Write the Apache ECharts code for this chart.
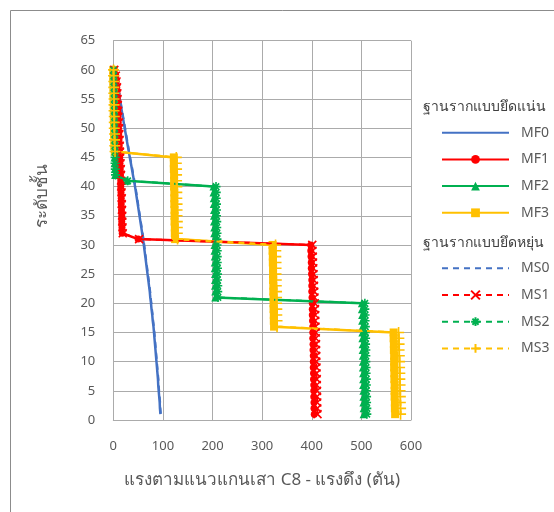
<!DOCTYPE html>
<html><head><meta charset="utf-8">
<script src="https://cdn.jsdelivr.net/npm/echarts@6/dist/echarts.min.js"></script>
<style>html,body{margin:0;padding:0;background:#fff}#c{width:554px;height:512px}</style>
</head><body><div id="c"></div>
<script>
const floors = [60,59,58,57,56,55,54,53,52,51,50,49,48,47,46,45,44,43,42,41,40,39,38,37,36,35,34,33,32,31,30,29,28,27,26,25,24,23,22,21,20,19,18,17,16,15,14,13,12,11,10,9,8,7,6,5,4,3,2,1];
const xTicks = [0,100,200,300,400,500,600];
const yTicks = [0,5,10,15,20,25,30,35,40,45,50,55,60,65];
const seriesNames = ['MF0','MF1','MF2','MF3','MS0','MS1','MS2','MS3'];
const groupHeaders = ['ฐานรากแบบยึดแน่น','ฐานรากแบบยึดหยุ่น'];
const xTitle = 'แรงตามแนวแกนเสา C8 - แรงดึง (ตัน)';
const yTitle = 'ระดับชั้น';

const MF0 = [3,5,7,9,11,13,15,17,19,21, 23,25,27,29.1,31.2,33.3,35.4,37.5,39.6,41.7, 43.8,45.6,47.4,49.2,51,52.8,54.6,56.4,58.2,60, 61.5,63,64.5,66,67.5,69,70.5,72,73.5,74.5, 76,77,78.5,79.5,81,82,83,84,85,86, 87,88,89,90,90.5,91.5,92.5,93.5,94,95];
const MS0 = [4,6,8,10,12,14,16,18,20,22, 24,26,28,30,32,34,36.4,38.5,40.6,42.7, 44.8,46.6,48.4,50.2,52,53.8,55.6,57.4,59.2,61, 62.5,64,65.5,67,68.5,70,71.5,73,74.5,75.5, 77,78,79.5,80.5,82,83,84,85,86,87, 88,89,90,91,91.5,92.5,93.5,94.5,95,96];
const MF1 = [2,5,6,7,7.5,8,8.5,9,9.5,10, 10.5,11,11.5,12,12.5,13,13.5,14,14.5,15, 15,15.5,16,16,16.5,17,17,17.5,18,50, 398,398,398.5,399,399,399.5,400,400,400,400.5, 401,401,401,401.5,402,402,402,402.5,402.5,403, 403,403,403.5,403.5,404,404,404,404.5,404.5,405];
const MS1 = [2,5,6.5,7.5,8,8.5,9,9.5,10,11, 11.5,12,12.5,13,13.5,14,14.5,15,15.5,16, 16,16.5,17,17,17.5,18,18,18.5,19,52, 401,401.5,402,402.5,403,403.5,404,404.5,405,405.5, 406,406.5,407,407,407.5,408,408,408.5,408.5,409, 409,409.5,409.5,410,410,410.5,410.5,411,411,411.5];
const MF2 = [0,0,0.5,0.5,0.5,1,1,1,1.5,1.5, 1.5,2,2,2,2.5,2.5,2.5,3,3.5,27, 202,202,202.5,202.5,203,203,203,203.5,203.5,204, 204,204,204.5,204.5,204.5,205,205,205,205.5,205.5, 501,501,501.5,501.5,502,502,502,502.5,502.5,503, 503,503,503.5,503.5,503.5,504,504,504,504.5,504.5];
const MS2 = [0.5,1,1,1.5,1.5,2,2,2,2.5,2.5, 2.5,3,3,3,3.5,3.5,3.5,4,4.5,29, 207,207.5,207.5,208,208,208,208.5,208.5,209,209, 209,209.5,209.5,209.5,210,210,210,210.5,210.5,211, 507,507,507.5,507.5,508,508,508.5,508.5,509,509, 509,509.5,509.5,510,510,510,510.5,510.5,511,511];
const MF3 = [0,0,0,0.5,0.5,0.5,1,1,1,1.5, 1.5,1.5,2,2,3,122,122,122,122.5,122.5, 122.5,123,123,123,123.5,123.5,123.5,124,124,124.5, 321,321,321.5,321.5,322,322,322,322.5,322.5,323, 323,323,323.5,323.5,324,565,565,565.5,565.5,566, 566,566,566.5,566.5,567,567,567,567.5,567.5,568];
const MS3 = [0.5,0.5,1,1,1,1.5,1.5,1.5,2,2, 2,2.5,2.5,3,3.5,127,127,127.5,127.5,127.5, 128,128,128,128.5,128.5,128.5,129,129,129,129.5, 327,327.5,327.5,328,328,328,328.5,328.5,329,329, 329,329.5,329.5,330,330,575,575.5,576,576,576.5, 577,577,577.5,577.5,578,578,578.5,578.5,579,579];

const values = [MF0,MF1,MF2,MF3,MS0,MS1,MS2,MS3];
const colors = ['#4472C4','#FF0000','#00B050','#FFC000','#4472C4','#FF0000','#00B050','#FFC000'];
const symbols = ['none','circle','triangle','rect','none',
  'path://M0,0L10,10M10,0L0,10',
  'path://M5,0L5,10M0,5L10,5M1.5,1.5L8.5,8.5M8.5,1.5L1.5,8.5',
  'path://M5,0L5,10M0,5L10,5'];
const symSizes = [0,7,8,8,0,8,9,11];

const FONT = '"Noto Sans", "DejaVu Sans", sans-serif';
const series = seriesNames.map((name, i) => {
  const dashed = i >= 4;
  return {
    name, type: 'line',
    data: floors.map((f, k) => [values[i][k], f]),
    symbol: symbols[i],
    symbolSize: symSizes[i],
    showSymbol: symbols[i] !== 'none',
    showAllSymbol: true,
    lineStyle: { color: colors[i], width: dashed ? 2 : 2.5, type: dashed ? [6, 5] : 'solid' },
    itemStyle: { color: colors[i], borderColor: colors[i], borderWidth: (i >= 5) ? 1.6 : 0 },
    emphasis: { disabled: true },
    animation: false,
    z: 2 + i
  };
});

function legendData(names) {
  return names.map(n => symbols[seriesNames.indexOf(n)] === 'none'
    ? { name: n, itemStyle: { opacity: 0, color: 'rgba(0,0,0,0)', borderWidth: 0 } }
    : { name: n });
}

const chart = echarts.init(document.getElementById('c'), null, { renderer: 'canvas' });
const legendCommon = {
  orient: 'vertical', left: 441, padding: 0, itemWidth: 67, itemHeight: 11, itemGap: 12.7,
  textStyle: { fontFamily: FONT, fontSize: 14, lineHeight: 14, color: '#595959', padding: [0, 0, 0, 7] },
  selectedMode: false
};
chart.setOption({
  backgroundColor: '#ffffff',
  animation: false,
  textStyle: { fontFamily: FONT },
  grid: { left: 113.3, right: 143, top: 40.7, bottom: 92, containLabel: false },
  xAxis: {
    type: 'value', min: xTicks[0], max: xTicks[xTicks.length - 1], interval: 100,
    axisLine: { show: true, lineStyle: { color: '#ababab', width: 1 } },
    axisTick: { show: false },
    splitLine: { show: true, lineStyle: { color: '#ababab', width: 1 } },
    axisLabel: { color: '#595959', fontSize: 13, margin: 20, fontFamily: FONT },
    name: xTitle, nameLocation: 'middle', nameGap: 52,
    nameTextStyle: { color: '#595959', fontSize: 17, fontFamily: FONT }
  },
  yAxis: {
    type: 'value', min: yTicks[0], max: yTicks[yTicks.length - 1], interval: 5,
    axisLine: { show: true, lineStyle: { color: '#ababab', width: 1 } },
    axisTick: { show: false },
    splitLine: { show: true, lineStyle: { color: '#ababab', width: 1 } },
    axisLabel: { color: '#595959', fontSize: 13, margin: 18, fontFamily: FONT }
  },
  legend: [
    Object.assign({ top: 125.7, data: legendData(seriesNames.slice(0, 4)) }, legendCommon),
    Object.assign({ top: 261.3, data: legendData(seriesNames.slice(4)) }, legendCommon)
  ],
  graphic: [
    { type: 'rect', shape: { x: 10.5, y: 10.5, width: 800, height: 800 }, style: { fill: 'none', stroke: '#8c8c8c', lineWidth: 1 }, silent: true, z: -10 },
    { type: 'text', x: 423, y: 107, style: { text: groupHeaders[0], fontSize: 14, fill: '#404040', fontFamily: FONT, verticalAlign: 'middle' } },
    { type: 'text', x: 423, y: 243.5, style: { text: groupHeaders[1], fontSize: 14, fill: '#404040', fontFamily: FONT, verticalAlign: 'middle' } },
    { type: 'text', x: 42, y: 196, rotation: Math.PI / 2, style: { text: yTitle, fontSize: 17, fill: '#595959', fontFamily: FONT, align: 'center', verticalAlign: 'middle' } }
  ],
  series
});
</script>
</body></html>
